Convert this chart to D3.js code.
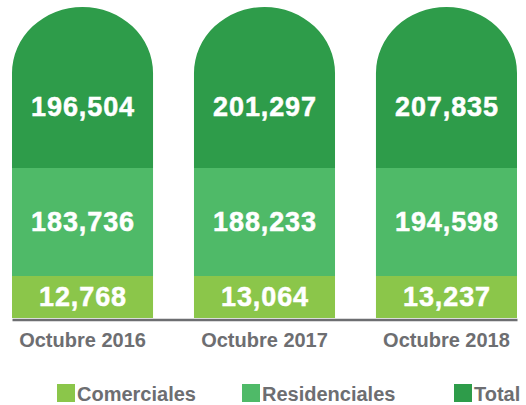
<!DOCTYPE html>
<html>
<head>
<meta charset="utf-8">
<script src="https://cdn.jsdelivr.net/npm/d3@7"></script>
<style>
  body { margin: 0; background: #fff; }
  svg { display: block; font-family: "Liberation Sans", Arial, sans-serif; }
</style>
</head>
<body>
<svg id="chart" width="526" height="405"></svg>
<script>
// data
var periods = ["Octubre 2016", "Octubre 2017", "Octubre 2018"];
var series = ["Comerciales", "Residenciales", "Total"];
var comerciales = [12768, 13064, 13237];
var residenciales = [183736, 188233, 194598];
var total = [196504, 201297, 207835];

var colorMap = {"Comerciales": "#8bc64a", "Residenciales": "#4fba68", "Total": "#2e9c4a"};
var gray = "#6d6e71";

var svg = d3.select("#chart");

var x = d3.scaleBand()
    .domain(periods)
    .range([12, 517])
    .paddingInner(0.225)
    .paddingOuter(0);

// stylised column: each series gets a fixed slot, not a proportional height
var slot = d3.scaleOrdinal()
    .domain(series)
    .range([[276, 318], [168, 276], [7, 168]]);

var axisY = 319.5;
var capR = 66; // vertical radius of the rounded top

var rows = [];
periods.forEach(function(p, i) {
  rows.push({period: p, id: "Comerciales", value: comerciales[i]});
  rows.push({period: p, id: "Residenciales", value: residenciales[i]});
  rows.push({period: p, id: "Total", value: total[i]});
});

var fmt = d3.format(",");

svg.selectAll(".seg")
  .data(rows)
  .enter().append("path")
    .attr("class", "seg")
    .attr("fill", function(d) { return colorMap[d.id]; })
    .attr("d", function(d) {
      var x0 = x(d.period), x1 = x0 + x.bandwidth(),
          y0 = slot(d.id)[0], y1 = slot(d.id)[1];
      if (d.id === "Total") {
        var rx = x.bandwidth() / 2;
        return "M" + x0 + "," + y1 + "V" + (y0 + capR) +
          "A" + rx + "," + capR + " 0 0 1 " + x1 + "," + (y0 + capR) +
          "V" + y1 + "Z";
      }
      return "M" + x0 + "," + y0 + "H" + x1 + "V" + y1 + "H" + x0 + "Z";
    });

svg.selectAll(".val")
  .data(rows)
  .enter().append("text")
    .attr("class", "val")
    .attr("x", function(d) { return x(d.period) + x.bandwidth() / 2 + 0.5; })
    .attr("y", function(d) {
      var s = slot(d.id);
      return d.id === "Total" ? 107 : (s[0] + s[1]) / 2;
    })
    .attr("dy", "0.35em")
    .attr("text-anchor", "middle")
    .attr("fill", "#fff")
    .attr("font-weight", "bold")
    .attr("font-size", "27px")
    .attr("letter-spacing", "0.9px")
    .attr("stroke", "#fff")
    .attr("stroke-width", 0.5)
    .text(function(d) { return fmt(d.value); });

var xAxis = d3.axisBottom(x).tickSize(0).tickPadding(13);

var gx = svg.append("g")
    .attr("transform", "translate(0," + axisY + ")")
    .call(xAxis);

gx.select(".domain")
    .attr("stroke", gray)
    .attr("stroke-width", 2.5);

gx.selectAll(".tick text")
    .attr("fill", gray)
    .attr("font-family", "Liberation Sans, Arial, sans-serif")
    .attr("font-weight", "bold")
    .attr("font-size", "20px");

// legend
var legendX = [57, 242, 454];
var legend = svg.selectAll(".legend")
  .data(series)
  .enter().append("g")
    .attr("class", "legend")
    .attr("transform", function(d, i) { return "translate(" + legendX[i] + ",384)"; });

legend.append("rect")
    .attr("width", 18)
    .attr("height", 18)
    .attr("fill", function(d) { return colorMap[d]; });

legend.append("text")
    .attr("x", 20)
    .attr("y", 17)
    .attr("fill", gray)
    .attr("font-weight", "bold")
    .attr("font-size", "20px")
    .text(function(d) { return d; });
</script>
</body>
</html>
